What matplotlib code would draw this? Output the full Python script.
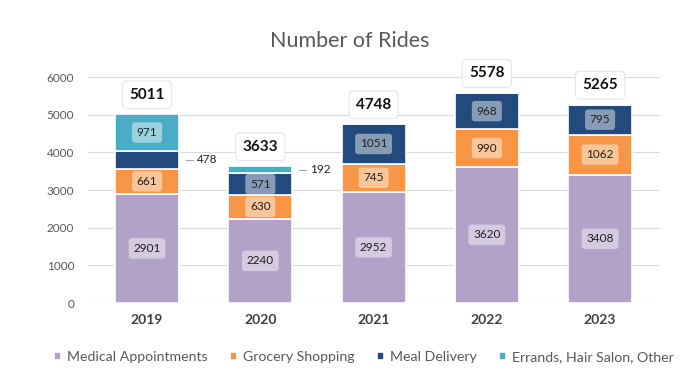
import matplotlib.pyplot as plt
import numpy as np

years = ["2019", "2020", "2021", "2022", "2023"]
medical = [2901, 2240, 2952, 3620, 3408]
grocery = [661, 630, 745, 990, 1062]
meal = [478, 571, 1051, 968, 795]
errands = [971, 192, 0, 0, 0]
series_names = ["Medical Appointments", "Grocery Shopping", "Meal Delivery", "Errands, Hair Salon, Other"]
colors = ["#B3A2C7", "#F79646", "#234A7C", "#4BACC6"]

plt.rcParams['font.family'] = ['Lato', 'DejaVu Sans']

fig = plt.figure(figsize=(7, 3.87), dpi=100)
ax = fig.add_axes([0.126, 0.217, 0.817, 0.584])

series = [medical, grocery, meal, errands]
x = np.arange(len(years))
width = 0.565
bottom = np.zeros(len(years))
for vals, name, c in zip(series, series_names, colors):
    vals = np.array(vals, dtype=float)
    ax.bar(x, vals, width, bottom=bottom, color=c, edgecolor="white", linewidth=1.2, label=name, zorder=2)
    for xi, v, b in zip(x, vals, bottom):
        if v <= 0:
            continue
        if v < 500:
            ym = b + v / 2
            ax.plot([xi + width / 2 + 0.062, xi + width / 2 + 0.125], [ym, ym],
                    color="#A6A6A6", lw=0.8, zorder=3)
            ax.text(xi + width / 2 + 0.16, ym, f"{int(v)}", ha="left", va="center",
                    fontsize=8.5, color="#202020", zorder=3)
        else:
            ax.text(xi, b + v / 2, f"{int(v)}", ha="center", va="center", fontsize=8.5,
                    color="#202020", zorder=3,
                    bbox=dict(boxstyle="round,pad=0.4,rounding_size=0.25", fc="white",
                              ec="none", alpha=0.45))
    bottom = bottom + vals

totals = bottom
for xi, t in zip(x, totals):
    ax.annotate(f"{int(t)}", xy=(xi, t), xytext=(0, 14), textcoords="offset points",
                ha="center", va="center", fontsize=11, fontweight="bold", color="#111111",
                bbox=dict(boxstyle="round,pad=0.45,rounding_size=0.3", fc="white",
                          ec="#E6E6E6", lw=0.8), zorder=4)

ax.set_ylim(0, 6000)
ax.set_xlim(-0.52, 4.53)
ax.set_yticks(range(0, 6001, 1000))
ax.set_xticks(x)
ax.set_xticklabels(years, fontsize=10, fontweight="bold", color="#404040")
ax.tick_params(axis="y", labelsize=8.5, colors="#595959", length=0, pad=10)
ax.tick_params(axis="x", length=0, pad=8)
ax.grid(axis="y", color="#D9D9D9", lw=0.8, zorder=0)
ax.set_axisbelow(True)
for s in ax.spines.values():
    s.set_visible(False)

fig.text(0.5, 0.895, "Number of Rides", ha="center", va="center", fontsize=15.5, color="#595959")

handles, labels = ax.get_legend_handles_labels()
fig.legend(handles, labels, loc="center", bbox_to_anchor=(0.52, 0.078), ncol=4, frameon=False,
           fontsize=10.2, labelcolor="#595959", handlelength=0.5, handleheight=0.5,
           handletextpad=0.4, columnspacing=1.6)

fig.savefig("out.png", dpi=100)
